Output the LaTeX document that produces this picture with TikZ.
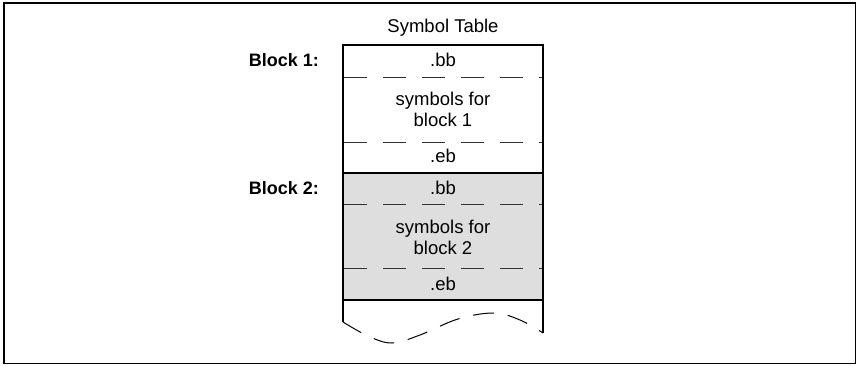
\documentclass[tikz,border=0pt]{standalone}
\usepackage{fontspec}
\setmainfont{Liberation Sans}
\begin{document}
\begin{tikzpicture}[x=1pt,y=-1pt,
  lbl/.style={font=\fontsize{18.5}{21}\selectfont, inner sep=0pt, anchor=center},
  twolbl/.style={lbl, align=center, font=\fontsize{18.5}{21}\selectfont},
  blbl/.style={font=\fontsize{18}{21}\selectfont\bfseries, inner sep=0pt, anchor=center},
  sep/.style={line width=1pt, dash pattern=on 23pt off 16pt, black!80},
  border/.style={line width=1.8pt},
  thick sep/.style={line width=2.6pt}]
\useasboundingbox (0,0) rectangle (857,365);
% outer frame
\draw[line width=1.6pt] (4,3) rectangle (855.5,363.5);
% shaded block 2
\fill[black!13] (343,173) rectangle (543,300);
% table borders
\draw[border] (343,300) -- (343,45) -- (543,45) -- (543,300);
\draw[border] (343,300) -- (343,322);
\draw[border] (543,300) -- (543,333);
\draw[thick sep] (342,45) -- (544,45);
\draw[thick sep] (342,173) -- (544,173);
\draw[thick sep] (342,300) -- (544,300);
% dashed separators
\draw[sep] (344,77) -- (542,77);
\draw[sep] (344,142) -- (542,142);
\draw[sep] (344,204) -- (542,204);
\draw[sep] (344,268) -- (542,268);
% wavy bottom
\draw[line width=1pt, dash pattern=on 21pt off 14pt] plot[smooth, tension=0.6] coordinates {(343,322) (368,336) (392,343) (420,335) (458,319) (494,313) (520,320) (543,333)};
% texts
\node[lbl] (title) at (443,28) {Symbol Table};
\node[blbl] (b1) at (284,60) {Block 1:};
\node[blbl] (b2) at (284,188) {Block 2:};
\node[lbl] (bb1) at (443,60) {.bb};
\node[twolbl] (s1) at (443,109) {symbols for\\block 1};
\node[lbl] (eb1) at (443,156) {.eb};
\node[lbl] (bb2) at (443,188) {.bb};
\node[twolbl] (s2) at (443,237) {symbols for\\block 2};
\node[lbl] (eb2) at (443,284) {.eb};
\end{tikzpicture}
\end{document}
